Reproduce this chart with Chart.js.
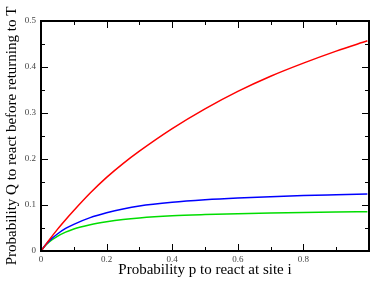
<!DOCTYPE html>
<html>
<head>
<meta charset="utf-8">
<script src="https://cdn.jsdelivr.net/npm/chart.js@4/dist/chart.umd.min.js"></script>
<style>
html,body{margin:0;padding:0;background:#fff;overflow:hidden;width:370px;height:282px;}
#wrap{position:absolute;left:0;top:0;width:372px;height:282px;}
</style>
</head>
<body>
<div id="wrap"><canvas id="c" width="372" height="282"></canvas></div>
<script>
// Probability p to react at site i (x)
const pValues = [0, 0.01, 0.025, 0.05, 0.075, 0.1, 0.15, 0.2, 0.25, 0.3, 0.4, 0.5, 0.6, 0.7, 0.8, 0.9, 0.995];
// Probability Q to react before returning to T (y), three curves
const redQ   = [0, 0.0096, 0.024, 0.047, 0.068, 0.088, 0.126, 0.160, 0.190, 0.217, 0.266, 0.309, 0.347, 0.380, 0.4085, 0.4346, 0.457];
const blueQ  = [0, 0.0098, 0.022, 0.037, 0.049, 0.058, 0.0725, 0.083, 0.0915, 0.098, 0.106, 0.1114, 0.1153, 0.1182, 0.1206, 0.1224, 0.124];
const greenQ = [0, 0.0094, 0.020, 0.032, 0.041, 0.048, 0.0570, 0.0635, 0.0685, 0.0720, 0.0765, 0.0792, 0.0812, 0.0827, 0.0839, 0.0848, 0.0855];
const xTickLabels = ['0', '0.2', '0.4', '0.6', '0.8'];
const yTickLabels = ['0', '0.1', '0.2', '0.3', '0.4', '0.5'];
const seriesColors = ['#ff0000', '#0000ff', '#00dd00'];

function pts(ys){ return pValues.map((p,i)=>({x:p,y:ys[i]})); }

const frameTicks = {
  id:'frameTicks',
  afterDatasetsDraw(chart){
    const ctx = chart.ctx, a = chart.chartArea;
    const xs = chart.scales.x, ys = chart.scales.y;
    ctx.save();
    ctx.strokeStyle = '#000';
    ctx.lineWidth = 1;
    for(let i=0;i<=10;i++){
      const px = Math.round(xs.getPixelForValue(i/10))+0.5;
      const len = (i%2===0)?7:4;
      ctx.beginPath();
      ctx.moveTo(px,a.bottom); ctx.lineTo(px,a.bottom-len);
      ctx.moveTo(px,a.top); ctx.lineTo(px,a.top+len);
      ctx.stroke();
    }
    for(let i=0;i<=10;i++){
      const py = Math.round(ys.getPixelForValue(i*0.05))+0.5;
      const len = (i%2===0)?7:4;
      ctx.beginPath();
      ctx.moveTo(a.left,py); ctx.lineTo(a.left+len,py);
      ctx.moveTo(a.right,py); ctx.lineTo(a.right-len,py);
      ctx.stroke();
    }
    ctx.lineWidth = 2;
    ctx.strokeRect(a.left, a.top, a.right-a.left, a.bottom-a.top);
    ctx.restore();
  }
};

new Chart(document.getElementById('c'), {
  type:'scatter',
  data:{datasets:[
    {data:pts(redQ), borderColor:seriesColors[0]},
    {data:pts(blueQ), borderColor:seriesColors[1]},
    {data:pts(greenQ), borderColor:seriesColors[2]}
  ].map(d=>Object.assign(d,{showLine:true,pointRadius:0,borderWidth:1.5,cubicInterpolationMode:'monotone',fill:false}))},
  options:{
    responsive:false, animation:false,
    layout:{padding:{top:21,right:1,left:0,bottom:0}},
    plugins:{legend:{display:false},tooltip:{enabled:false}},
    scales:{
      x:{type:'linear',min:0,max:1,
        grid:{display:false,drawTicks:false},border:{display:false},
        ticks:{stepSize:0.2,padding:3,color:'#444',font:{family:'Liberation Serif',size:9},
          callback:(v,i)=> i<xTickLabels.length ? xTickLabels[i] : ''},
        title:{display:true,text:'Probability p to react at site i',color:'#000',
          font:{family:'Liberation Serif',size:15},padding:{top:0,bottom:3}},
        afterFit(s){ s.height = 31; }
      },
      y:{type:'linear',min:0,max:0.5,
        grid:{display:false,drawTicks:false},border:{display:false},
        ticks:{stepSize:0.1,padding:5,color:'#444',font:{family:'Liberation Serif',size:9},
          callback:(v,i)=> yTickLabels[i]},
        title:{display:true,text:'Probability Q to react before returning to T',color:'#000',
          font:{family:'Liberation Serif',size:15},padding:{top:3,bottom:0}},
        afterFit(s){ s.width = 41; }
      }
    }
  },
  plugins:[frameTicks]
});
</script>
</body>
</html>
